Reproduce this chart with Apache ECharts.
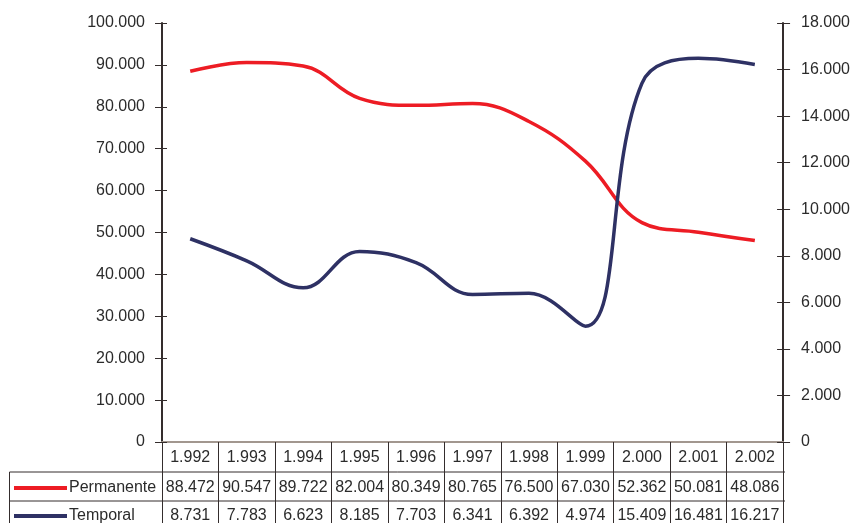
<!DOCTYPE html>
<html>
<head>
<meta charset="utf-8">
<script src="https://cdn.jsdelivr.net/npm/echarts@6/dist/echarts.min.js"></script>
<style>
  html, body { margin: 0; padding: 0; background: #fff; }
  #chart { width: 853px; height: 523px; }
</style>
</head>
<body>
<div id="chart"></div>
<script>
  // años (etiquetas del eje x, tal como aparecen)
  var years = ['1.992', '1.993', '1.994', '1.995', '1.996', '1.997', '1.998', '1.999', '2.000', '2.001', '2.002'];
  var permanente = [88472, 90547, 89722, 82004, 80349, 80765, 76500, 67030, 52362, 50081, 48086];
  var temporal = [8731, 7783, 6623, 8185, 7703, 6341, 6392, 4974, 15409, 16481, 16217];

  var RED = '#ed1c24';
  var NAVY = '#2e3164';
  var AXIS = '#342d2d';
  var TXT = '#2b2b2b';
  var FONT = '"Liberation Sans", Arial, sans-serif';

  // grid edges (px)
  var G = { left: 162, right: 68, top: 23, bottom: 81 };
  var rowY = [442, 472, 501];

  function dots(v) {
    return String(v).replace(/\B(?=(\d{3})+(?!\d))/g, '.');
  }

  var chart = echarts.init(document.getElementById('chart'));

  var option = {
    animation: false,
    textStyle: { fontFamily: FONT },
    grid: { left: G.left, right: G.right, top: G.top, bottom: G.bottom },
    xAxis: [{
      type: 'category',
      data: years,
      boundaryGap: true,
      axisLine: { lineStyle: { color: AXIS, width: 1.5 } },
      axisTick: { show: true, length: 81, lineStyle: { color: AXIS, width: 1 } },
      axisLabel: { margin: 8, fontSize: 16, color: TXT, fontFamily: FONT },
      splitLine: { show: false }
    }, {
      type: 'category',
      data: years,
      position: 'top',
      axisLine: { lineStyle: { color: '#a2978f', width: 2 } },
      axisTick: { show: false },
      axisLabel: { show: false }
    }],
    yAxis: [{
      type: 'value', min: 0, max: 100000, interval: 10000, position: 'left',
      axisLine: { show: true, lineStyle: { color: AXIS, width: 2 } },
      axisTick: { show: true, length: 7, lineStyle: { color: AXIS } },
      axisLabel: { margin: 17, fontSize: 16, color: TXT, fontFamily: FONT, formatter: dots },
      splitLine: { show: false }
    }, {
      type: 'value', min: 0, max: 18000, interval: 2000, position: 'right',
      axisLine: { show: true, lineStyle: { color: AXIS, width: 2 } },
      axisTick: { show: true, length: 7, lineStyle: { color: AXIS } },
      axisLabel: { margin: 18, fontSize: 16, color: TXT, fontFamily: FONT, formatter: dots },
      splitLine: { show: false }
    }, {
      type: 'value', min: 0, max: 100000, interval: 10000, position: 'left',
      axisLine: { show: false },
      axisTick: { show: true, inside: true, length: 5, lineStyle: { color: AXIS } },
      axisLabel: { show: false },
      splitLine: { show: false }
    }, {
      type: 'value', min: 0, max: 18000, interval: 2000, position: 'right',
      axisLine: { show: false },
      axisTick: { show: true, inside: true, length: 6, lineStyle: { color: AXIS } },
      axisLabel: { show: false },
      splitLine: { show: false }
    }],
    series: [{
      name: 'Permanente',
      type: 'line',
      yAxisIndex: 0,
      data: permanente,
      smooth: 0.4,
      symbol: 'none',
      lineStyle: { color: RED, width: 3.5 },
      itemStyle: { color: RED }
    }, {
      name: 'Temporal',
      type: 'line',
      yAxisIndex: 1,
      data: temporal,
      smooth: 0.4,
      symbol: 'none',
      lineStyle: { color: NAVY, width: 3.5 },
      itemStyle: { color: NAVY }
    }]
  };

  chart.setOption(option);

  // tabla de datos bajo el gráfico
  var right = 853 - G.right;
  var graphic = [];
  [rowY[1], rowY[2]].forEach(function (y) {
    graphic.push({ type: 'line', shape: { x1: 9.5, y1: y, x2: right, y2: y }, style: { stroke: AXIS, lineWidth: 1 } });
  });
  graphic.push({ type: 'line', shape: { x1: 9.5, y1: rowY[1], x2: 9.5, y2: 523 }, style: { stroke: AXIS, lineWidth: 1 } });

  var rows = [
    { name: 'Permanente', color: RED, values: permanente, cy: 488 },
    { name: 'Temporal', color: NAVY, values: temporal, cy: 516 }
  ];
  rows.forEach(function (r) {
    graphic.push({ type: 'line', shape: { x1: 14, y1: r.cy, x2: 67, y2: r.cy }, style: { stroke: r.color, lineWidth: 4 } });
    graphic.push({ type: 'text', x: 69, y: r.cy, style: { text: r.name, fill: TXT, font: '16px ' + FONT, textAlign: 'left', textVerticalAlign: 'middle' } });
    r.values.forEach(function (v, i) {
      var px = chart.convertToPixel({ xAxisIndex: 0 }, years[i]);
      graphic.push({ type: 'text', x: px, y: r.cy, style: { text: dots(v), fill: TXT, font: '16px ' + FONT, textAlign: 'center', textVerticalAlign: 'middle' } });
    });
  });

  chart.setOption({ graphic: graphic });
</script>
</body>
</html>
